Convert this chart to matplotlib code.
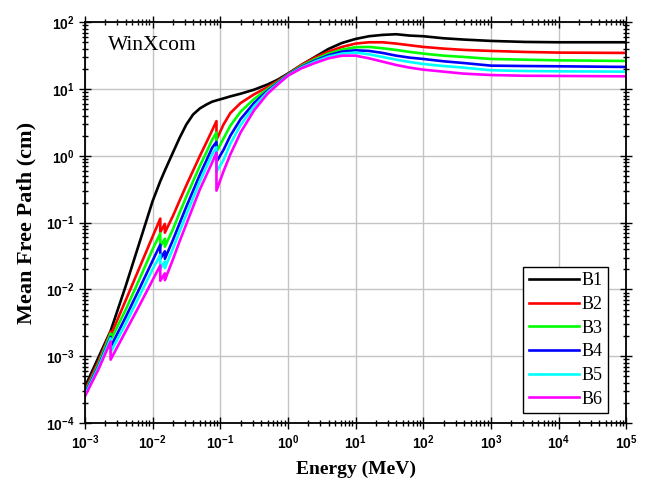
from matplotlib import pyplot as plt
import numpy as np

plt.rcParams['font.family'] = 'Liberation Sans'
plt.rcParams['font.weight'] = 'bold'
plt.rcParams['axes.unicode_minus'] = False

# photon energy (MeV); absorption edges appear twice (before/after the jump)
energy = [1e-3, 1.58e-3, 2.4e-3, 2.4e-3, 3.98e-3, 6.31e-3, 1e-2, 1.3e-2, 1.3e-2,
          1.52e-2, 1.52e-2, 2.0e-2, 2.51e-2, 3.16e-2, 3.98e-2, 5.01e-2, 6.31e-2, 7.59e-2,
          8.8e-2, 8.8e-2, 0.112, 0.141, 0.2, 0.316, 0.501, 0.708, 1, 1.58, 2.51, 3.98,
          6.31, 10, 15.8, 25.1, 39.8, 63.1, 100, 200, 398, 1000, 3160, 1e4, 1e5]

# mean free path (cm)
B1 = [3.47e-4, 9.55e-4, 2.40e-3, 2.40e-3, 1.10e-2, 4.79e-2, 0.209, 0.417, 0.417,
      0.603, 0.603, 1.12, 1.86, 2.95, 4.17, 5.13, 5.89, 6.46,
      6.76, 6.76, 7.24, 7.76, 8.51, 9.77, 11.7, 13.8, 17.0, 22.9, 30.2, 39.8,
      49.0, 56.2, 61.7, 64.6, 66.1, 63.1, 61.7, 57.5, 55.0, 52.5, 50.7, 50.1, 50.1]
B2 = [3.09e-4, 8.32e-4, 2.34e-3, 2.04e-3, 6.76e-3, 2.04e-2, 6.17e-2, 0.115, 0.0724,
      0.0955, 0.0708, 0.126, 0.214, 0.363, 0.603, 1.00, 1.62, 2.40,
      3.31, 1.74, 2.95, 4.37, 6.17, 8.32, 10.7, 13.2, 16.6, 22.9, 29.5, 36.3,
      42.7, 47.9, 50.1, 50.1, 47.9, 45.2, 42.7, 40.3, 38.5, 37.2, 35.9, 35.1, 34.7]
B3 = [2.88e-4, 7.59e-4, 2.19e-3, 1.74e-3, 4.90e-3, 1.38e-2, 3.98e-2, 6.92e-2, 4.37e-2,
      5.75e-2, 4.37e-2, 7.94e-2, 0.141, 0.245, 0.417, 0.708, 1.15, 1.74,
      2.24, 1.15, 1.82, 2.82, 4.57, 7.08, 10.0, 12.7, 16.4, 22.1, 27.9, 33.9,
      38.9, 42.2, 42.7, 40.7, 38.5, 35.9, 33.9, 31.6, 30.2, 28.2, 27.5, 26.9, 26.3]
B4 = [2.75e-4, 7.08e-4, 1.95e-3, 1.38e-3, 3.80e-3, 1.00e-2, 2.69e-2, 4.68e-2, 2.88e-2,
      3.72e-2, 2.88e-2, 5.50e-2, 9.77e-2, 0.174, 0.302, 0.525, 0.871, 1.32,
      1.62, 0.813, 1.23, 2.00, 3.55, 6.17, 9.44, 12.3, 16.2, 21.4, 26.6, 32.0,
      36.3, 38.0, 37.2, 34.7, 31.6, 29.5, 28.2, 26.0, 24.5, 22.4, 22.1, 21.9, 21.4]
B5 = [2.63e-4, 6.76e-4, 1.86e-3, 1.15e-3, 3.02e-3, 7.76e-3, 2.00e-2, 3.31e-2, 2.04e-2,
      2.63e-2, 2.09e-2, 4.07e-2, 7.41e-2, 0.132, 0.234, 0.417, 0.692, 1.05,
      1.35, 0.575, 0.871, 1.51, 2.88, 5.50, 9.02, 12.0, 16.0, 20.9, 25.7, 30.5,
      33.9, 35.1, 33.1, 30.2, 27.5, 25.4, 23.7, 22.1, 20.9, 19.1, 18.6, 18.4, 18.2]
B6 = [2.51e-4, 6.31e-4, 1.66e-3, 8.91e-4, 2.34e-3, 5.62e-3, 1.38e-2, 2.29e-2, 1.35e-2,
      1.74e-2, 1.38e-2, 2.82e-2, 5.25e-2, 9.55e-2, 0.174, 0.316, 0.525, 0.794,
      1.12, 0.302, 0.589, 1.05, 2.24, 4.79, 8.51, 11.7, 15.8, 20.4, 24.5, 28.8,
      31.6, 31.6, 28.8, 25.7, 22.9, 20.9, 19.5, 18.2, 17.0, 16.2, 15.8, 15.7, 15.5]

names = ['B1', 'B2', 'B3', 'B4', 'B5', 'B6']
colors = ['#000000', '#ff0000', '#00ff00', '#0000ff', '#00ffff', '#ff00ff']

fig = plt.figure(figsize=(6.53, 4.83), dpi=100)
ax = fig.add_axes([0.130, 0.124, 0.829, 0.830])

for y, name, c in zip([B1, B2, B3, B4, B5, B6], names, colors):
    ax.plot(energy, y, color=c, lw=1.9, label=name)

ax.set_xscale('log')
ax.set_yscale('log')
ax.set_xlim(1e-3, 1e5)
ax.set_ylim(1e-4, 1e2)
ax.set_xticks([10.0**k for k in range(-3, 6)])
ax.set_yticks([10.0**k for k in range(-4, 3)])
ax.grid(True, which='major', color='#c4c4c4', lw=1.0)
ax.set_axisbelow(True)

ax.tick_params(which='both', direction='inout', top=True, right=True, width=1.0, colors='black')
ax.tick_params(which='major', length=8, labelsize=10)
ax.tick_params(which='minor', length=5)
for s in ax.spines.values():
    s.set_linewidth(1.3)

ax.set_xlabel('Energy (MeV)', fontfamily='Liberation Serif', fontweight='bold',
              fontsize=14, labelpad=6)
ax.set_ylabel('Mean Free Path (cm)', fontfamily='Liberation Serif', fontweight='bold',
              fontsize=16, labelpad=7)

ax.text(0.043, 0.943, 'WinXcom', transform=ax.transAxes, fontfamily='Liberation Serif',
        fontweight='normal', fontsize=15.5, va='center')

leg = ax.legend(loc='lower right', bbox_to_anchor=(0.967, 0.025), fancybox=False,
                edgecolor='black', framealpha=1, handlelength=2.8, handletextpad=0.15,
                labelspacing=0.37, borderpad=0.3, borderaxespad=0,
                prop={'family': 'Liberation Serif', 'size': 13, 'weight': 'normal'})
leg.get_frame().set_linewidth(1.0)

fig.savefig('out.png', dpi=100)
